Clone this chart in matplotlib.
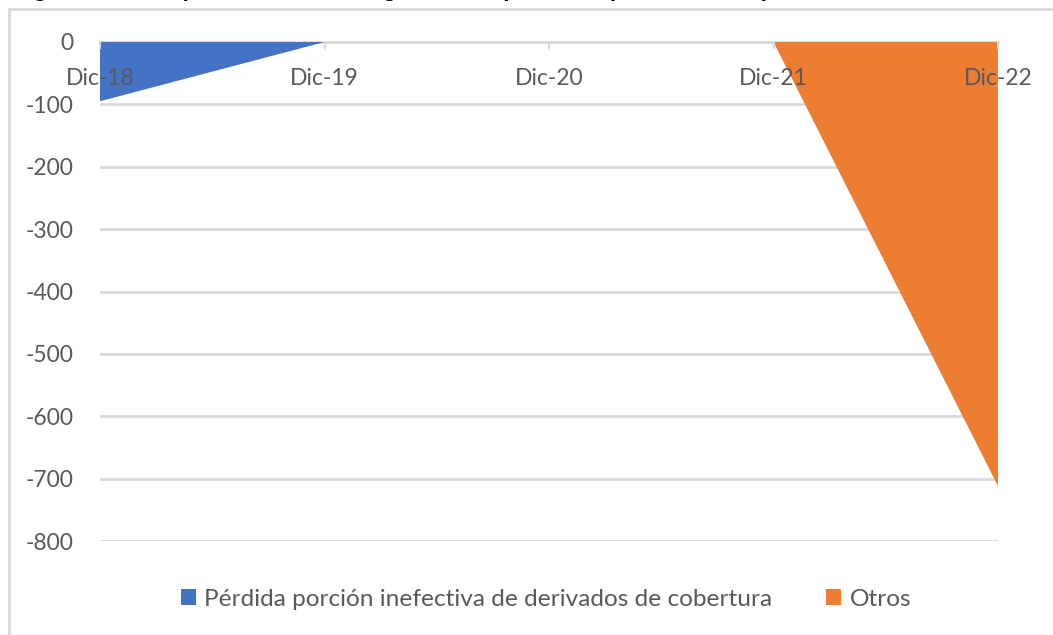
import matplotlib
matplotlib.use("Agg")
import matplotlib.pyplot as plt
from matplotlib.patches import Rectangle, Patch

plt.rcParams['font.family'] = ['Lato', 'DejaVu Sans']
plt.rcParams['axes.unicode_minus'] = False

categories = ["Dic-18", "Dic-19", "Dic-20", "Dic-21", "Dic-22"]
perdida = [-95, 0, 0, 0, 0]
otros = [0, 0, 0, 0, -712]
series_names = ["Pérdida porción inefectiva de derivados de cobertura", "Otros"]
colors = ["#4472C4", "#ED7D31"]
yticks = [0, -100, -200, -300, -400, -500, -600, -700, -800]

W, H = 1053, 635
fig = plt.figure(figsize=(W / 100, H / 100), dpi=100)
ax = fig.add_axes([100 / W, 1 - 541 / H, (998 - 100) / W, (541 - 42) / H])

x = list(range(len(categories)))
ax.stackplot(x, perdida, otros, colors=colors, zorder=1, linewidth=0)

ax.set_xlim(0, len(categories) - 1)
ax.set_ylim(-800, 0)
ax.set_yticks(yticks)
ax.set_yticklabels([str(v) for v in yticks])
ax.set_xticks(x)
ax.set_xticklabels(categories)

gray = "#595959"
grid = "#d9d9d9"
ax.grid(axis='y', color=grid, linewidth=2)
ax.grid(axis='x', visible=False)
for s in ['left', 'right', 'bottom']:
    ax.spines[s].set_visible(False)
ax.spines['top'].set_color(grid)
ax.spines['top'].set_linewidth(2)

ax.tick_params(axis='y', length=0, labelsize=16.5, labelcolor=gray, pad=19)
ax.tick_params(axis='x', top=True, bottom=False, labeltop=True, labelbottom=False,
               direction='in', length=5, width=1.5, color=grid,
               labelsize=16.5, labelcolor=gray, pad=-33.5)

ax.set_axisbelow(True)
ax.yaxis.set_zorder(0.5)
ax.xaxis.set_zorder(3)
ax.spines['top'].set_zorder(0.6)

# chart border
fig.patches.append(Rectangle((9 / W, -0.1), 1.2, 1 - 9 / H + 0.1, transform=fig.transFigure,
                             fill=False, edgecolor=grid, linewidth=2))

# figure title (cut off at the top, as in the source)
fig.text(12 / W, 1 + 4 / H, "Figura 10: Composición de otras ganancias/pérdidas (millones US$)",
         fontsize=16.8, fontweight='bold', family='Liberation Sans', va='baseline', ha='left', color='black')

handles = [Patch(facecolor=c, edgecolor='none') for c in colors]
fig.legend(handles, series_names, loc='center', bbox_to_anchor=(546 / W, 1 - 599 / H),
           ncol=2, frameon=False, fontsize=17.6, labelcolor=gray,
           handlelength=0.62, handleheight=0.62, handletextpad=0.35, columnspacing=2.2)

fig.savefig("out.png", dpi=100)
